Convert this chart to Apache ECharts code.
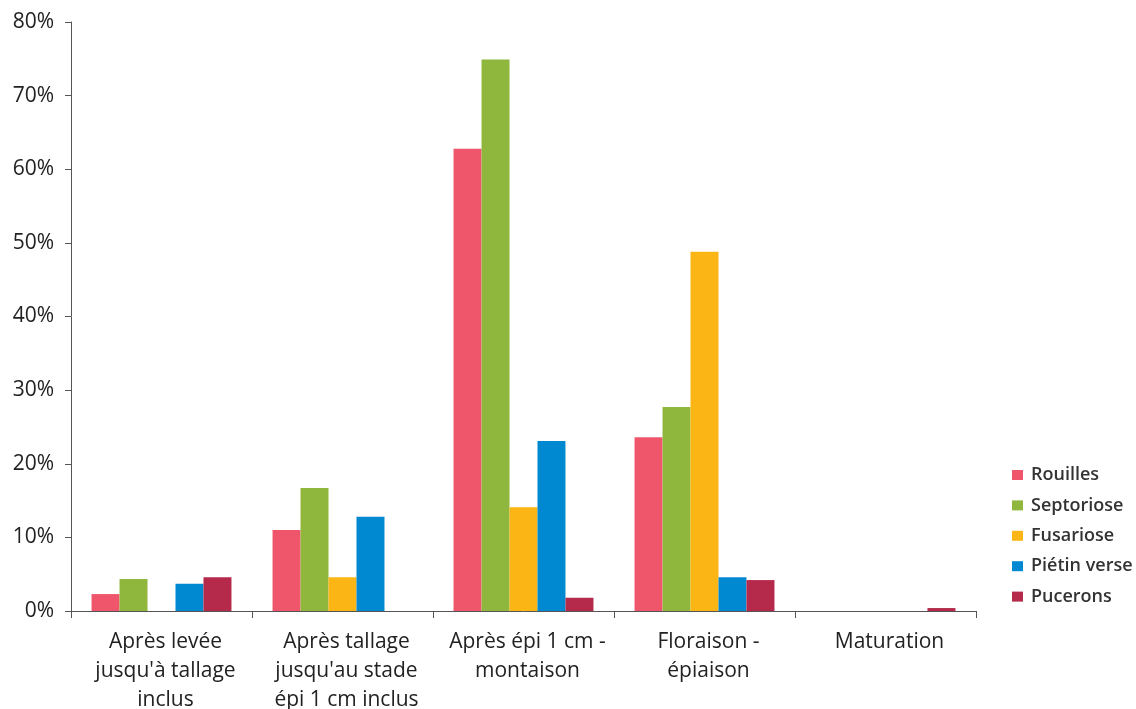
<!DOCTYPE html>
<html>
<head>
<meta charset="utf-8">
<script src="https://cdn.jsdelivr.net/npm/echarts@6/dist/echarts.min.js"></script>
<style>
html,body{margin:0;padding:0;background:#fff;}
#chart{width:1136px;height:709px;}
</style>
</head>
<body>
<div id="chart"></div>
<script>
const categories = ["Après levée\njusqu'à tallage\ninclus", "Après tallage\njusqu'au stade\népi 1 cm inclus", "Après épi 1 cm -\nmontaison", "Floraison -\népiaison", "Maturation"];
const seriesNames = ["Rouilles", "Septoriose", "Fusariose", "Piétin verse", "Pucerons"];
const rouilles = [2.3, 11.0, 62.8, 23.6, 0];
const septoriose = [4.35, 16.7, 74.9, 27.7, 0];
const fusariose = [0, 4.6, 14.1, 48.8, 0];
const pietinVerse = [3.7, 12.8, 23.1, 4.6, 0];
const pucerons = [4.6, 0, 1.8, 4.2, 0.4];
const yTicks = [0, 10, 20, 30, 40, 50, 60, 70, 80];
const colors = ["#EF566B", "#8FB63D", "#FBB615", "#0088D1", "#B5294A"];

const allValues = [rouilles, septoriose, fusariose, pietinVerse, pucerons];
const font = "'Open Sans', 'Noto Sans', sans-serif";
const chart = echarts.init(document.getElementById('chart'));
chart.setOption({
  animation: false,
  color: colors,
  textStyle: {fontFamily: font},
  grid: {left: 71, right: 160, top: 22, bottom: 98, outerBoundsMode: 'none', containLabel: false},
  legend: {
    orient: 'vertical', left: 1007, top: 461,
    itemWidth: 11, itemHeight: 10, itemGap: 12.4,
    icon: 'rect',
    textStyle: {fontSize: 18, fontWeight: 600, color: '#333', fontFamily: font, padding: [0,0,0,3]},
    data: seriesNames
  },
  xAxis: {
    type: 'category', data: categories,
    axisLine: {lineStyle: {color: '#555', width: 1}},
    axisTick: {show: true, alignWithLabel: false, length: 7, lineStyle: {color: '#555'}},
    axisLabel: {fontSize: 21, color: '#222', margin: 17, lineHeight: 29, interval: 0, fontFamily: font, padding: [0,0,0,8]}
  },
  yAxis: {
    type: 'value', min: yTicks[0], max: yTicks[yTicks.length-1], interval: 10,
    splitLine: {show: false},
    axisLine: {show: true, lineStyle: {color: '#555', width: 1}},
    axisTick: {show: true, length: 6, lineStyle: {color: '#555'}},
    axisLabel: {fontSize: 21, color: '#222', margin: 17, fontFamily: font, formatter: v => v + '%'}
  },
  series: seriesNames.map((n, i) => ({
    name: n, type: 'bar', data: allValues[i],
    barGap: '0%', barCategoryGap: '22.7%'
  }))
});
</script>
</body>
</html>
